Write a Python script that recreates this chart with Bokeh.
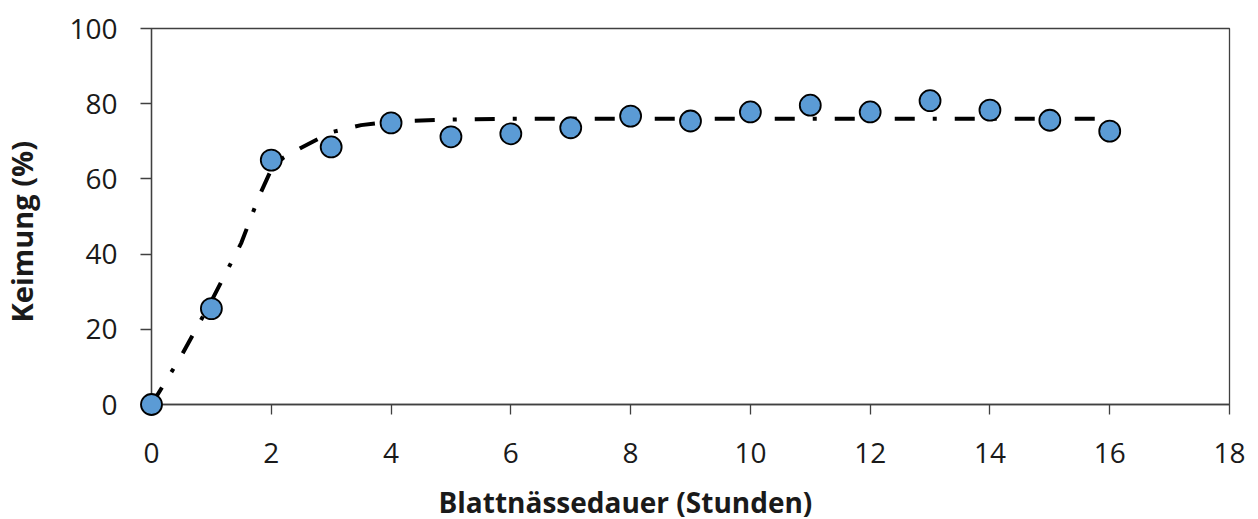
from bokeh.plotting import figure
from bokeh.models import ColumnDataSource, Title, FixedTicker, Range1d
from bokeh.embed import file_html
from bokeh.resources import INLINE

# Measured germination
hours = [0, 1, 2, 3, 4, 5, 6, 7, 8, 9, 10, 11, 12, 13, 14, 15, 16]
germination = [0, 25.5, 65.0, 68.5, 74.9, 71.2, 72.0, 73.6, 76.7, 75.4, 77.8, 79.6, 77.8, 80.8, 78.3, 75.6, 72.7]

# Fitted curve
fit_x = [0, 0.5, 1, 1.5, 1.8, 2, 2.2, 2.5, 3, 3.5, 4, 5, 6, 8, 10, 12, 14, 16]
fit_y = [0, 13.0, 27.5, 43.0, 55.5, 62.5, 65.6, 68.3, 72.4, 74.3, 75.3, 75.8, 76.0, 76.0, 76.0, 76.0, 76.0, 76.0]

x_ticks = [0, 2, 4, 6, 8, 10, 12, 14, 16, 18]
y_ticks = [0, 20, 40, 60, 80, 100]

x_title = "Blattnässedauer (Stunden)"
y_title = "Keimung (%)"

FONT = "Open Sans"
AXIS_COLOR = "#404040"

p = figure(width=1258, height=519, output_backend="svg", toolbar_location=None,
           x_range=Range1d(0, 18), y_range=Range1d(0, 100),
           min_border_left=150, min_border_right=29, min_border_top=28, min_border_bottom=115)

p.background_fill_color = "white"
p.border_fill_color = "white"
p.outline_line_color = AXIS_COLOR
p.outline_line_width = 1.3
p.grid.visible = False

for ax, ticks in ((p.xaxis, x_ticks), (p.yaxis, y_ticks)):
    ax.ticker = FixedTicker(ticks=ticks)
    ax.axis_line_color = AXIS_COLOR
    ax.axis_line_width = 1.3
    ax.major_tick_line_color = AXIS_COLOR
    ax.major_tick_line_width = 1.3
    ax.major_tick_in = 0
    ax.minor_tick_line_color = None
    ax.major_label_text_font = FONT
    ax.major_label_text_font_size = "28px"
    ax.major_label_text_color = "#1a1a1a"

p.xaxis.major_tick_out = 10
p.yaxis.major_tick_out = 11
p.xaxis.major_label_standoff = 28
p.yaxis.major_label_standoff = 23
# invisible spacers so the titles sit where the reference has them
p.yaxis.axis_label = " "
p.yaxis.axis_label_text_font_size = "1px"
p.yaxis.axis_label_standoff = 21
p.xaxis.axis_label = " "
p.xaxis.axis_label_text_font_size = "1px"
p.xaxis.axis_label_standoff = 12

src_fit = ColumnDataSource(dict(x=fit_x, y=fit_y))
p.line("x", "y", source=src_fit, line_color="black", line_width=4,
       line_dash="20 18 4 18")

src = ColumnDataSource(dict(x=hours, y=germination))
r = p.scatter("x", "y", source=src, size=21, fill_color="#5B9BD5",
              line_color="black", line_width=1.8)
r.level = "overlay"

p.add_layout(Title(text=x_title, text_font=FONT, text_font_size="28px",
                   text_font_style="bold", text_color="#1a1a1a",
                   align="left", offset=287, standoff=-2, vertical_align="bottom"), "below")
p.add_layout(Title(text=y_title, text_font=FONT, text_font_size="29px",
                   text_font_style="bold", text_color="#1a1a1a",
                   align="left", offset=82, standoff=0, vertical_align="middle"), "left")

open("out.html", "w").write(file_html(p, INLINE))
